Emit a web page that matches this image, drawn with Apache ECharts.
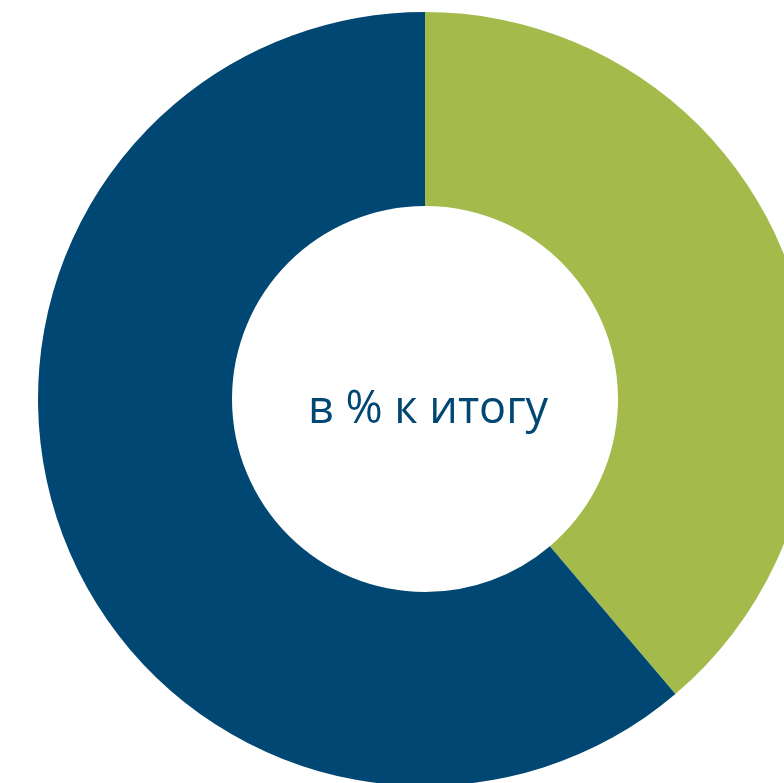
<!DOCTYPE html>
<html>
<head>
<meta charset="utf-8">
<script src="https://cdn.jsdelivr.net/npm/echarts@6/dist/echarts.min.js"></script>
<style>
  html, body { margin: 0; padding: 0; background: #fff; }
  #donut { width: 784px; height: 783px; }
</style>
</head>
<body>
<div id="donut"></div>
<script>
var names = ['Группа 1', 'Группа 2'];
var shares = [38.8, 61.2];
var colors = ['#A4BA4A', '#004873'];

var chart = echarts.init(document.getElementById('donut'));
var option = {
  animation: false,
  graphic: [
    {
      type: 'text',
      x: 428,
      y: 410,
      style: {
        text: 'в % к итогу',
        fill: '#004873',
        font: 'normal 45px "Open Sans"',
        align: 'center',
        verticalAlign: 'middle'
      }
    }
  ],
  series: [
    {
      type: 'pie',
      center: [425, 399],
      radius: [193, 387],
      startAngle: 90,
      clockwise: true,
      silent: true,
      label: { show: false },
      labelLine: { show: false },
      data: names.map(function (n, i) {
        return { name: n, value: shares[i], itemStyle: { color: colors[i] } };
      })
    }
  ]
};
chart.setOption(option);
</script>
</body>
</html>
